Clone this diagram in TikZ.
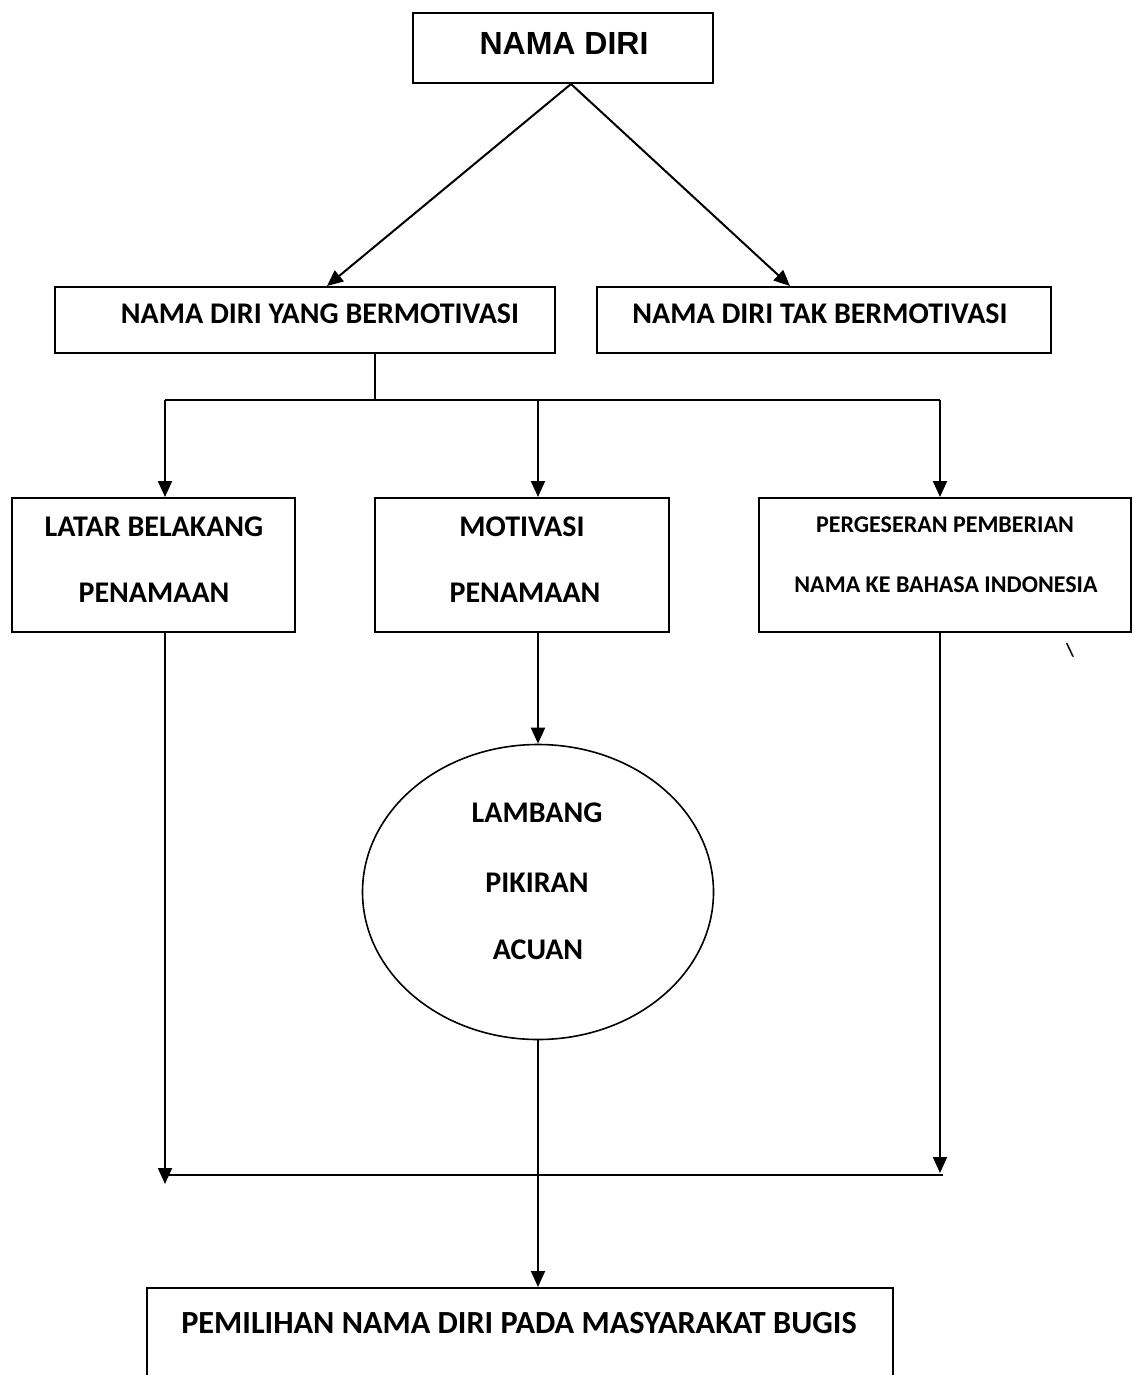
\documentclass[tikz,border=0pt]{standalone}
\usepackage{fontspec}
\setmainfont{Carlito}
\newfontfamily\arialf{Liberation Sans}
\usetikzlibrary{arrows.meta,shapes.geometric}
\begin{document}
\begin{tikzpicture}[x=0.75pt,y=-0.75pt,line width=1.5pt,
  >={Triangle[length=12pt,width=10.5pt]},
  box/.style={draw,line width=1.5pt,inner sep=0pt,rectangle},
  lbl/.style={font=\bfseries\fontsize{22.5}{25}\selectfont,inner sep=0pt},
  lblsmall/.style={font=\bfseries\fontsize{18}{21}\selectfont,inner sep=0pt},
  lblbig/.style={font=\bfseries\fontsize{24.2}{27}\selectfont,inner sep=0pt},
  lblarial/.style={font=\arialf\bfseries\fontsize{24}{27}\selectfont,inner sep=0pt}]
\useasboundingbox (0,0) rectangle (1133,1375);

% boxes
\node[box,minimum width=225pt,minimum height=52.5pt] (nd) at (563,48) {};
\node[box,minimum width=375pt,minimum height=49.5pt] (bm) at (305,320) {};
\node[box,minimum width=340.5pt,minimum height=49.5pt] (tb) at (824,320) {};
\node[box,minimum width=212.25pt,minimum height=100.5pt] (lb) at (153.5,565) {};
\node[box,minimum width=220.5pt,minimum height=100.5pt] (mp) at (522,565) {};
\node[box,minimum width=279pt,minimum height=100.5pt] (pp) at (945,565) {};
\node[draw,ellipse,line width=1.2pt,minimum width=263.25pt,minimum height=221.25pt,inner sep=0pt] (el) at (538,892) {};
\node[box,minimum width=559.5pt,minimum height=99pt] (pm) at (520,1354) {};

% texts
\node[lblarial] (t1) at (564,43) {NAMA DIRI};
\node[lbl] (t2) at (320,314) {NAMA DIRI YANG BERMOTIVASI};
\node[lbl] (t3) at (820,314) {NAMA DIRI TAK BERMOTIVASI};
\node[lbl] (t4a) at (154,527) {LATAR BELAKANG};
\node[lbl] (t4b) at (154,593) {PENAMAAN};
\node[lbl] (t5a) at (522,527) {MOTIVASI};
\node[lbl] (t5b) at (525,593) {PENAMAAN};
\node[lblsmall] (t6a) at (945,525) {PERGESERAN PEMBERIAN};
\node[lblsmall] (t6b) at (946,585) {NAMA KE BAHASA INDONESIA};
\node[lbl] (t7a) at (537,813) {LAMBANG};
\node[lbl] (t7b) at (537,883) {PIKIRAN};
\node[lbl] (t7c) at (538,950) {ACUAN};
\node[lblbig] (t8) at (519,1323) {PEMILIHAN NAMA DIRI PADA MASYARAKAT BUGIS};
\node[font=\bfseries\fontsize{14}{16}\selectfont,inner sep=0pt] (bs) at (1070,650) {\textbackslash};

% helper coordinates
\coordinate (xa) at (571,0);
\coordinate (xl) at (327,0);
\coordinate (xr) at (790,0);
\coordinate (xs) at (375,0);
\coordinate (x1) at (165,0);
\coordinate (x2) at (538,0);
\coordinate (x3) at (940,0);
\coordinate (jy) at (0,400);
\coordinate (ky) at (0,1175);
\coordinate (kl) at (165,1184);
\coordinate (kr) at (940,1173);
\coordinate (ke) at (943,1175);

% connectors
\draw[->] (nd.south -| xa) -- (bm.north -| xl);
\draw[->] (nd.south -| xa) -- (tb.north -| xr);
\draw (bm.south -| xs) -- (jy -| xs);
\draw (jy -| x1) -- (jy -| x3);
\draw[->] (jy -| x1) -- (lb.north -| x1);
\draw[->] (jy -| x2) -- (mp.north -| x2);
\draw[->] (jy -| x3) -- (pp.north -| x3);
\draw[->] (mp.south -| x2) -- (el.north);
\draw[->] (lb.south -| x1) -- (kl);
\draw[->] (pp.south -| x3) -- (kr);
\draw (ky -| x1) -- (ke);
\draw[->] (el.south) -- (pm.north -| x2);
\end{tikzpicture}
\end{document}
